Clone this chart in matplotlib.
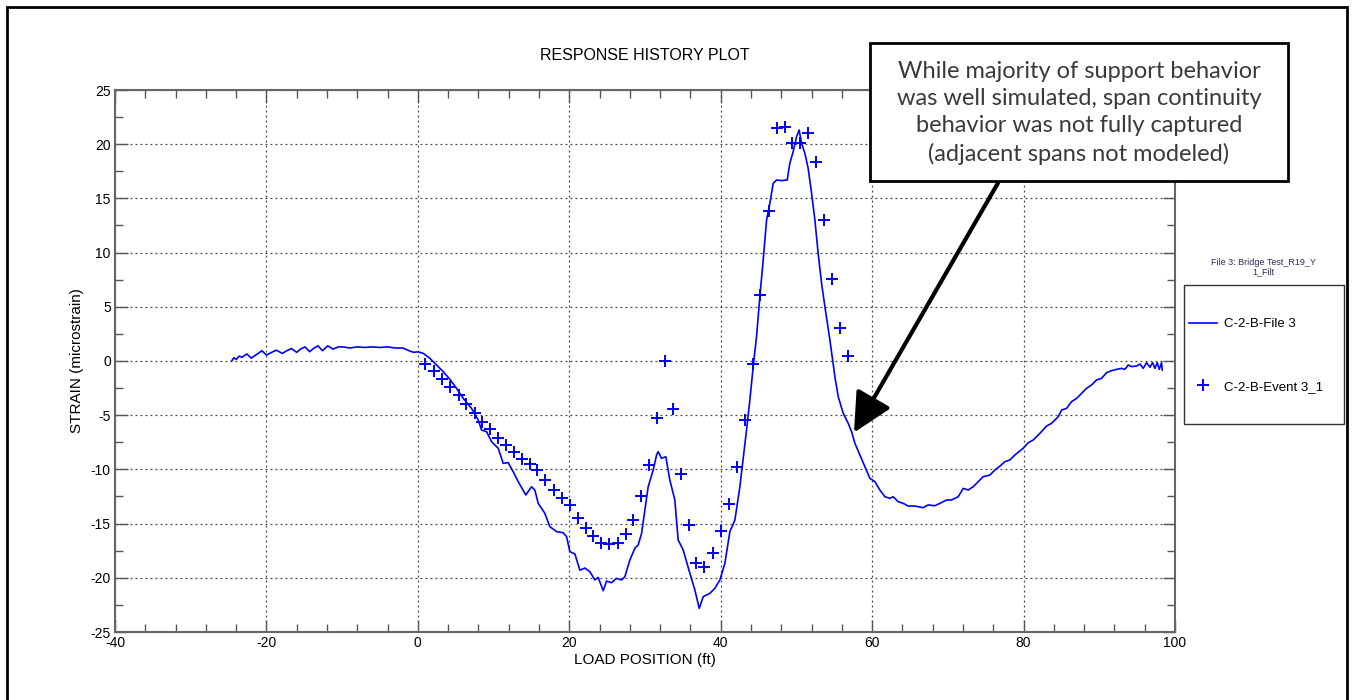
import matplotlib
matplotlib.use('Agg')
import matplotlib.pyplot as plt
from matplotlib.lines import Line2D
from matplotlib.patches import Rectangle
from matplotlib.ticker import MultipleLocator

# ---- data ----
file3_x = [-24.6, -24.3, -24.0, -23.6, -23.2, -22.6, -22.0, -21.3, -20.6, -20.0,
           -19.3, -18.7, -17.9, -17.3, -16.7, -16.0, -15.5, -14.9, -14.3, -13.7,
           -13.2, -12.6, -11.9, -11.2, -10.5, -9.9, -9.0, -8.0, -7.0, -6.0,
           -5.0, -4.0, -3.0, -2.0, -1.0, -0.5, 0.0, 0.7, 1.58, 2.47,
           3.34, 4.23, 5.11, 5.99, 7.09, 7.97, 8.41, 9.07, 9.73, 10.61,
           11.27, 11.93, 12.59, 13.25, 14.26, 15.01, 15.45, 15.89, 16.77, 17.43,
           18.32, 19.19, 19.64, 20.08, 20.74, 21.40, 22.06, 22.72, 23.38, 23.82,
           24.48, 24.92, 25.58, 26.24, 26.90, 27.34, 28.0, 28.66, 29.1, 29.55,
           29.98, 30.42, 31.08, 31.53, 31.74, 32.18, 32.75, 33.28, 33.94, 34.38,
           35.04, 35.93, 36.59, 37.16, 37.69, 38.57, 39.23, 39.89, 40.55, 41.21,
           41.87, 42.53, 43.41, 43.85, 44.29, 44.73, 45.17, 45.61, 46.06, 46.49,
           46.93, 47.38, 48.04, 48.78, 49.13, 49.57, 50.02, 50.36, 50.68, 51.12,
           51.55, 52.0, 52.44, 52.87, 53.32, 53.76, 54.42, 55.08, 55.52, 56.18,
           56.84, 57.28, 57.72, 58.38, 59.04, 59.7, 60.36, 61.02, 61.68, 62.34,
           62.78, 63.44, 64.1, 64.76, 65.64, 66.74, 67.4, 68.29, 68.95, 69.83,
           70.49, 71.37, 72.03, 72.69, 73.35, 74.01, 74.67, 75.55, 76.21, 76.87,
           77.53, 78.19, 78.85, 79.95, 80.61, 81.27, 82.16, 83.04, 83.7, 84.58,
           85.02, 85.68, 86.34, 87.0, 87.66, 88.32, 88.98, 89.64, 90.3, 90.96,
           91.62, 92.28, 92.95, 93.38, 93.82, 94.26, 94.93, 95.37, 95.8, 96.25,
           96.69, 97.04, 97.35, 97.66, 97.92, 98.23, 98.31]
file3_y = [0.0, 0.3, 0.15, 0.45, 0.35, 0.65, 0.27, 0.6, 0.95, 0.55,
           0.8, 1.0, 0.7, 0.95, 1.15, 0.8, 1.1, 1.3, 0.86, 1.2,
           1.4, 0.95, 1.4, 1.1, 1.3, 1.3, 1.2, 1.3, 1.25, 1.3,
           1.25, 1.3, 1.2, 1.2, 0.9, 0.8, 0.85, 0.71, 0.25, -0.37,
           -0.98, -1.69, -2.52, -3.44, -4.37, -5.44, -6.37, -6.52, -7.44, -8.05,
           -9.44, -9.38, -10.21, -11.13, -12.36, -11.6, -11.9, -13.13, -14.05, -15.28,
           -15.74, -15.84, -16.2, -17.59, -17.8, -19.3, -19.1, -19.44, -20.2, -19.96,
           -21.2, -20.3, -20.45, -20.05, -20.2, -19.9, -18.36, -17.28, -16.97, -15.9,
           -13.75, -11.6, -10.06, -8.67, -8.36, -8.98, -8.83, -10.98, -12.82, -16.51,
           -17.43, -19.59, -21.13, -22.82, -21.74, -21.43, -20.97, -20.2, -18.67, -15.74,
           -14.67, -11.6, -6.37, -3.6, -0.52, 2.24, 5.93, 9.32, 13.0, 14.55,
           16.39, 16.7, 16.64, 16.7, 18.24, 19.31, 20.7, 21.31, 20.08, 19.15,
           17.77, 15.47, 13.0, 9.93, 7.17, 5.01, 1.94, -1.45, -3.29, -4.83,
           -5.75, -6.52, -7.59, -8.67, -9.75, -10.82, -11.13, -11.9, -12.52, -12.67,
           -12.52, -12.98, -13.13, -13.38, -13.38, -13.53, -13.28, -13.35, -13.13, -12.82,
           -12.82, -12.52, -11.75, -11.9, -11.6, -11.13, -10.67, -10.52, -10.06, -9.7,
           -9.29, -9.13, -8.67, -8.05, -7.54, -7.29, -6.67, -6.0, -5.75, -5.14,
           -4.52, -4.37, -3.75, -3.45, -2.98, -2.52, -2.21, -1.75, -1.6, -1.08,
           -0.89, -0.77, -0.68, -0.77, -0.37, -0.52, -0.46, -0.28, -0.68, -0.15,
           -0.58, -0.15, -0.68, -0.15, -0.77, -0.15, -0.83]

event_x = [1.0, 2.1, 3.2, 4.3, 5.4, 6.4, 7.5, 8.5, 9.5, 10.6,
           11.7, 12.7, 13.8, 14.8, 15.8, 16.8, 18.0, 19.1, 20.1, 21.1,
           22.15, 23.15, 24.2, 25.3, 26.4, 27.5, 28.45, 29.5, 30.55, 31.6,
           32.6, 33.75, 34.7, 35.8, 36.8, 37.85, 39.0, 40.05, 41.05, 42.1,
           43.2, 44.2, 45.25, 46.35, 47.4, 48.45, 49.45, 50.45, 51.55, 52.55,
           53.65, 54.7, 55.8, 56.85]
event_y = [-0.28, -0.89, -1.63, -2.37, -3.17, -3.97, -4.77, -5.63, -6.30, -7.10,
           -7.78, -8.39, -9.01, -9.50, -10.06, -10.98, -11.90, -12.6, -13.3, -14.45,
           -15.4, -16.15, -16.75, -16.9, -16.75, -15.95, -14.7, -12.5, -9.55, -5.3,
           0.0, -4.45, -10.45, -15.1, -18.6, -19.0, -17.75, -15.7, -13.15, -9.75,
           -5.45, -0.3, 6.05, 13.85, 21.45, 21.6, 20.1, 20.1, 21.05, 18.4,
           13.05, 7.6, 3.05, 0.45]

series_labels = ['C-2-B-File 3', 'C-2-B-Event 3_1']
legend_title = 'File 3: Bridge Test_R19_Y\n1_Filt'
note_lines = ['While majority of support behavior',
              'was well simulated, span continuity',
              'behavior was not fully captured',
              '(adjacent spans not modeled)']

W, H = 1352, 700
plt.rcParams['font.family'] = ['Liberation Sans', 'DejaVu Sans']
plt.rcParams['axes.unicode_minus'] = False

fig = plt.figure(figsize=(W / 100, H / 100), dpi=100)
fig.patch.set_facecolor('white')

# outer frame
fig.add_artist(Rectangle((7 / W, -0.05), 1340 / W, 1.05 - 7 / H,
                         transform=fig.transFigure, fill=False,
                         edgecolor='black', linewidth=2))

ax = fig.add_axes([115 / W, 1 - 632 / H, 1060 / W, 542 / H])
ax.plot(file3_x, file3_y, color='#0000ff', linewidth=1.2)
ax.plot(event_x, event_y, linestyle='none', marker='+', color='#0000ff',
        markersize=9, markeredgewidth=1.4)

ax.set_xlim(-40, 100)
ax.set_ylim(-25, 25)
ax.xaxis.set_major_locator(MultipleLocator(20))
ax.xaxis.set_minor_locator(MultipleLocator(4))
ax.yaxis.set_major_locator(MultipleLocator(5))
ax.yaxis.set_minor_locator(MultipleLocator(2.5))
ax.tick_params(which='both', direction='in', top=True, right=True,
               color='#555555', labelsize=10, pad=3)
ax.tick_params(which='major', length=9, width=1)
ax.tick_params(which='minor', length=6, width=1)
for s in ax.spines.values():
    s.set_color('#666666')
    s.set_linewidth(1.5)
ax.grid(True, which='major', color='#444444', linestyle=(0, (1.5, 2.5)),
        linewidth=0.9)

ax.set_xlabel('LOAD POSITION (ft)', fontsize=11, labelpad=2)
ax.set_ylabel('STRAIN (microstrain)', fontsize=11, labelpad=5)
fig.text(645 / W, 1 - 55 / H, 'RESPONSE HISTORY PLOT', ha='center',
         va='center', fontsize=11.5)

# legend (frame drawn separately to match the reference box)
handles = [Line2D([], [], color='#0000ff', linewidth=1.2),
           Line2D([], [], linestyle='none', marker='+', color='#0000ff',
                  markersize=9, markeredgewidth=1.4)]
fig.legend(handles, series_labels, loc='center left',
           bbox_to_anchor=(1184 / W, 1 - 355.5 / H), fontsize=9.5,
           frameon=False, borderpad=0.4, labelspacing=3.8,
           handlelength=2.1, handletextpad=0.55, borderaxespad=0)
fig.add_artist(Rectangle((1184 / W, 1 - 424 / H), 160 / W, 139 / H,
                         transform=fig.transFigure, fill=False,
                         edgecolor='#333333', linewidth=1.0))
fig.text(1263 / W, 1 - 267 / H, legend_title, ha='center', va='center',
         fontsize=6.5, color='#2a2a5a', linespacing=1.1)

# annotation box and arrow
fig.add_artist(Rectangle((870 / W, 1 - 181 / H), 418 / W, 138 / H,
                         transform=fig.transFigure, facecolor='white',
                         edgecolor='black', linewidth=2, zorder=5))
fig.text(1079 / W, 1 - 113 / H, '\n'.join(note_lines), ha='center',
         va='center', fontsize=17, color='#3a3a3a', family='Lato',
         linespacing=1.36, zorder=6)
ax.annotate('', xy=(57.6, -6.6), xytext=(998 / W, 1 - 183 / H),
            textcoords='figure fraction',
            arrowprops=dict(arrowstyle='-|>,head_length=1.2,head_width=0.6',
                            color='black', lw=3, mutation_scale=20,
                            shrinkA=0, shrinkB=0))

fig.savefig('out.png', dpi=100)
